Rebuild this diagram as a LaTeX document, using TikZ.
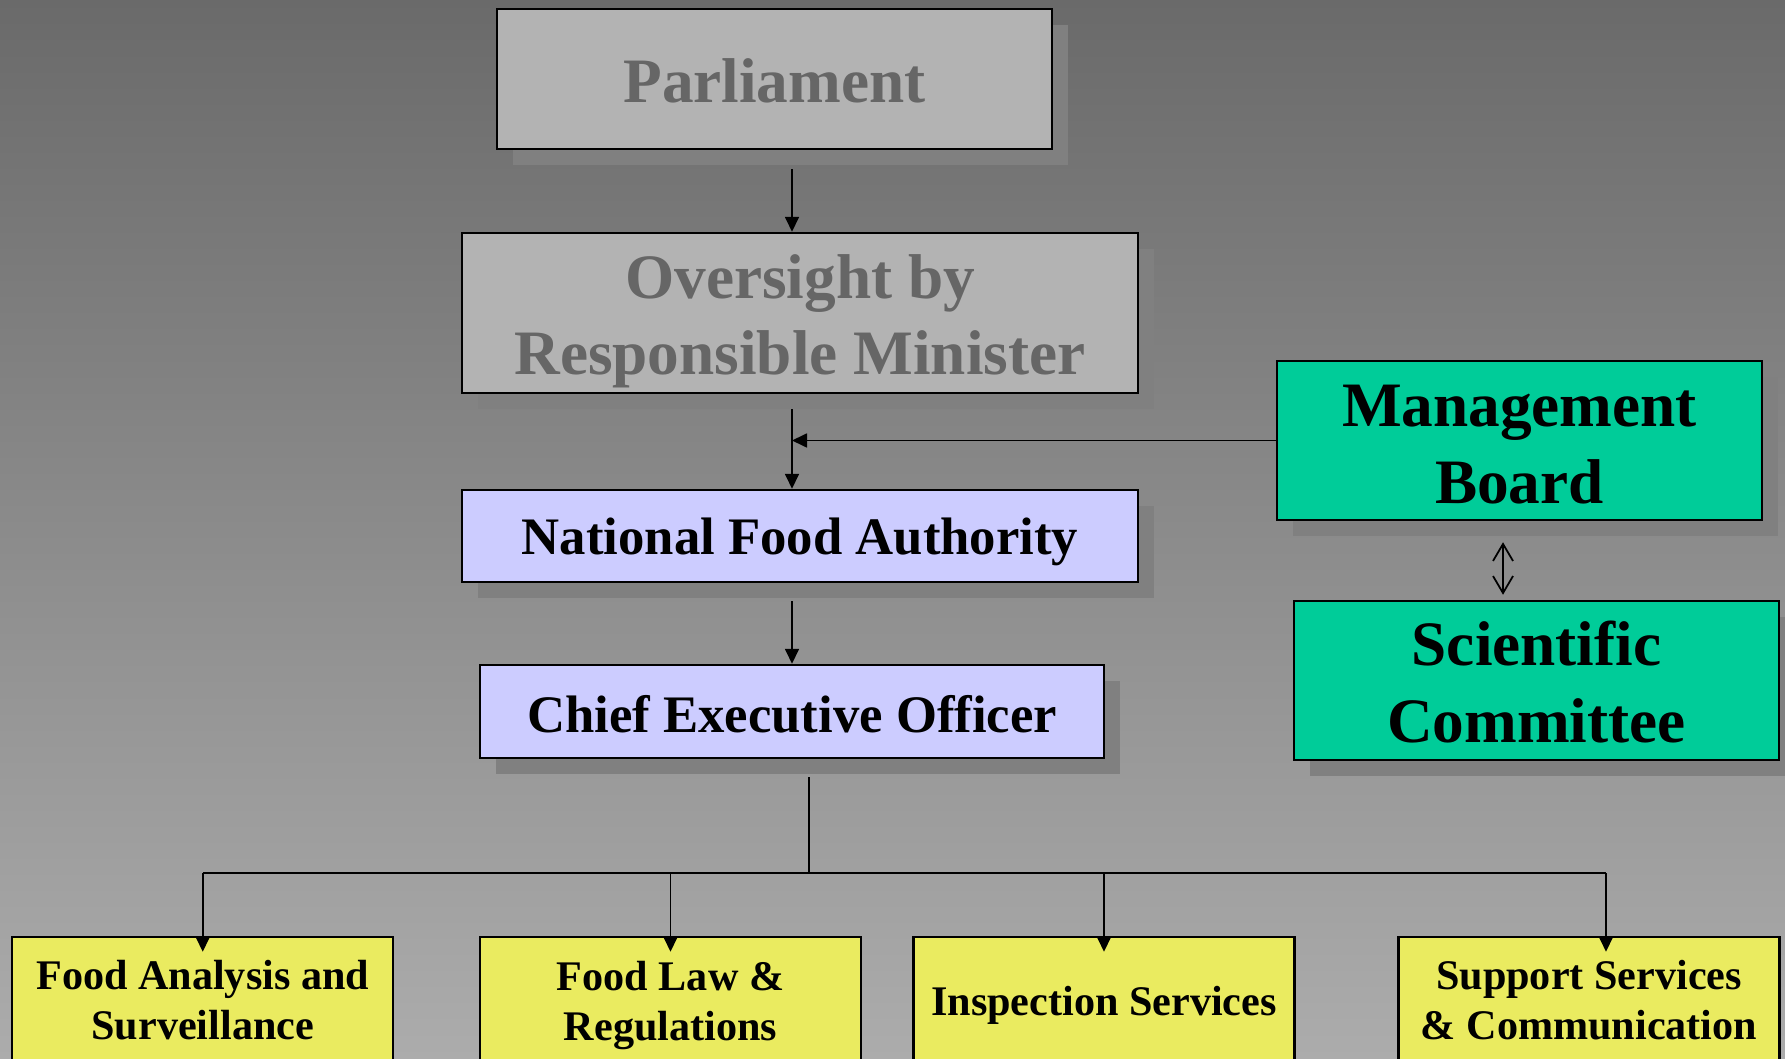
\documentclass[tikz,border=0pt]{standalone}
\usepackage{fontspec}
\setmainfont{Liberation Serif}
\usetikzlibrary{arrows.meta, calc, shadows}
\definecolor{bgtop}{RGB}{106,106,106}
\definecolor{bgbottom}{RGB}{172,172,172}
\definecolor{shadowgrey}{RGB}{128,128,128}
\definecolor{boxgrey}{RGB}{179,179,179}
\definecolor{textgrey}{RGB}{102,102,102}
\definecolor{authorityblue}{RGB}{204,204,255}
\definecolor{boardgreen}{RGB}{0,204,153}
\definecolor{unityellow}{RGB}{234,235,96}

\begin{document}
\begin{tikzpicture}[x=0.1mm, y=-0.1mm,
    orgbox/.style={draw=black, line width=0.7pt, inner sep=0pt, align=center},
    shadowed/.style={drop shadow={shadow xshift=1.6mm, shadow yshift=-1.6mm, opacity=1, fill=shadowgrey}},
    greybox/.style={orgbox, shadowed, fill=boxgrey, text=textgrey, font=\bfseries\fontsize{18}{21.6}\selectfont},
    bluebox/.style={orgbox, shadowed, fill=authorityblue, text depth=0pt, font=\bfseries\fontsize{15}{18}\selectfont},
    greenbox/.style={orgbox, shadowed, fill=boardgreen, minimum width=48.5mm, minimum height=15.9mm, font=\bfseries\fontsize{18}{21.9}\selectfont},
    unitbox/.style={orgbox, fill=unityellow, minimum width=38.1mm, font=\bfseries\fontsize{12}{14.2}\selectfont},
    link/.style={line width=0.5pt, -{Triangle[length=1.5mm, width=1.4mm]}},
    twoway/.style={line width=0.5pt, {Straight Barb[length=1.7mm, width=2mm]}-{Straight Barb[length=1.7mm, width=2mm]}}]

    % page and background
    \useasboundingbox (0,0) rectangle (1785,1059);
    \clip (0,0) rectangle (1785,1059);
    \shade[top color=bgtop, bottom color=bgbottom] (0,0) rectangle (1785,1059);

    % hierarchy
    \node[greybox, minimum width=55.5mm, minimum height=14mm, text height=13.6pt, text depth=0pt] (parl) at (774.5,79) {Parliament};
    \node[greybox, minimum width=67.6mm, minimum height=16mm] (minister) at (800,313) {\rule{0pt}{17pt}Oversight by\\Responsible Minister};
    \node[bluebox, minimum width=67.6mm, minimum height=9.2mm, text height=10.6pt] (nfa) at (800,536) {National Food Authority};
    \node[bluebox, minimum width=62.4mm, minimum height=9.3mm, text height=11.7pt] (ceo) at (792,711.5) {Chief Executive Officer};

    \node[greenbox] (board) at (1519.5,440.5) {\rule{0pt}{13.9pt}Management\\Board};
    \node[greenbox] (sci) at (1536.5,680.5) {\rule{0pt}{13.6pt}Scientific\\Committee};

    \node[unitbox, minimum height=12.7mm] (unitA) at (202.75,1000.5) {Food Analysis and\\Surveillance};
    \node[unitbox, minimum height=13.7mm] (unitB) at (670.5,1005.5) {Food Law \&\\Regulations};
    \node[unitbox, minimum height=13.7mm] (unitC) at (1104,1005.5) {Inspection Services};
    \node[unitbox, minimum height=12.7mm] (unitD) at (1589,1000.5) {Support Services\\\& Communication};

    \coordinate (spine) at (792,0);
    \coordinate (pair) at (1503,0);
    \coordinate (bus) at (809,873);
    \coordinate (dropD) at (1606,873);

    % connectors
    \draw[link, shorten <=1.9mm] (parl.south -| spine) -- (minister.north -| spine);
    \draw[link, shorten <=1.5mm] (minister.south -| spine) -- (nfa.north -| spine);
    \draw[link, shorten <=1.8mm] (nfa.south -| spine) -- (ceo.north -| spine);
    \draw[link] (board.west) -- (board.west -| spine);
    \draw[twoway] ($(board.south -| pair)+(0,21)$) -- ($(sci.north -| pair)+(0,-5)$);

    \draw[line width=0.5pt, shorten <=1.8mm] (ceo.south -| bus) -- (bus);
    \draw[line width=0.5pt] (unitA.north |- bus) -- (dropD);
    \foreach \u in {unitA,unitB,unitC}
        \draw[link, shorten >=-1.6mm] (\u.north |- bus) -- (\u.north);
    \draw[link, shorten >=-1.6mm] (dropD) -- (dropD |- unitD.north);
\end{tikzpicture}
\end{document}
